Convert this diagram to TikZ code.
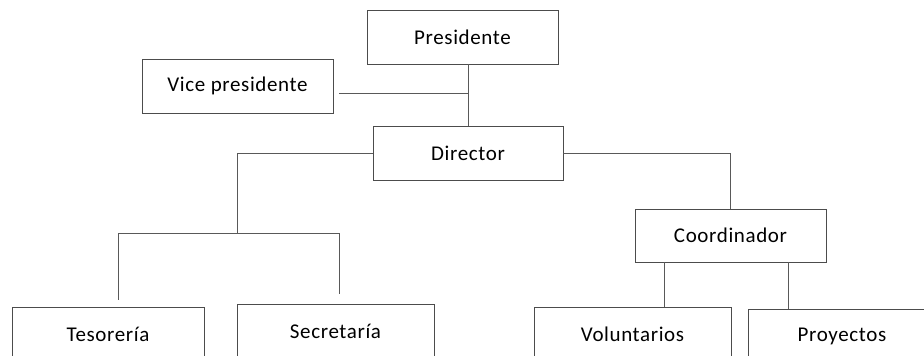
\documentclass[tikz,border=0pt]{standalone}
\usepackage{fontspec}
\setmainfont[LetterSpace=3]{Carlito}
\begin{document}
\begin{tikzpicture}
[x=1pt,y=-1pt,line width=0.8pt,
 box/.style={draw=black!70,inner sep=0pt,minimum height=54pt,font=\fontsize{21}{24}\selectfont},
 link/.style={draw=black!65},]
\path[use as bounding box,clip] (0,0) rectangle (924,356);
%\draw[help lines] (0,0) grid (924,356);
\node (pres) at (462.5,37)[box,minimum width=191pt]{Presidente};
\node (vice) at (237.5,86)[box,minimum width=191pt]{Vice presidente};
\node (dir) at (468,153)[box,minimum width=190pt]{Director};
\node (coord) at (730.5,235.5)[box,minimum width=191pt,minimum height=53pt]{Coordinador};
\node (tes) at (108,334)[box,minimum width=192pt]{Tesorería};
\node (sec) at (335.5,331)[box,minimum width=197pt]{Secretaría};
\node (vol) at (632.5,334)[box,minimum width=197pt]{Voluntarios};
\node (proy) at (842,336)[box,minimum width=188pt]{Proyectos};
\coordinate (vp) at (468,93);
\coordinate (tj) at (237,233);
\coordinate (tl) at (118,233);
\coordinate (tr) at (339,233);
\coordinate (cl) at (664,262);
\coordinate (cr) at (788,262);

\draw[link] (pres.south -| dir.north)--(dir.north);
\draw[link] ([xshift=6pt]vice.east |- vp)--(vp);
\draw[link] (dir.west) -| (tj);
\draw[link] (tl)--(tr);
\draw[link] (tl)--([yshift=7pt]tes.north -| tl);
\draw[link] (tr)--([yshift=10pt]sec.north -| tr);
\draw[link] (dir.east) -| (coord.north);
\draw[link] (cl)--(vol.north -| cl);
\draw[link] (cr)--(proy.north -| cr);
\end{tikzpicture}
\end{document}
